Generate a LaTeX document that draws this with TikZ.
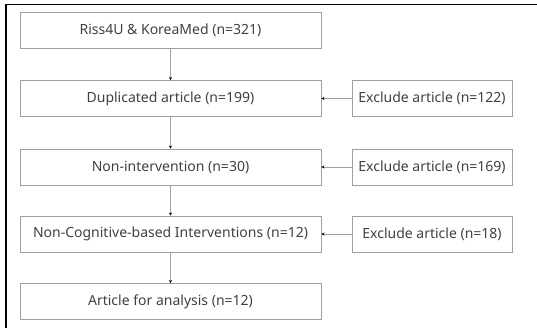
\documentclass[tikz,border=0pt]{standalone}
\usepackage{fontspec}
\setmainfont{Noto Sans}
\usetikzlibrary{arrows.meta}
\definecolor{boxgray}{HTML}{A0A0A0}
\definecolor{txt}{HTML}{404040}
\begin{document}
\begin{tikzpicture}[x=1pt,y=-1pt,
  box/.style={draw=boxgray,line width=0.9pt,rectangle,minimum height=36pt,inner sep=0pt,text=txt,font=\fontsize{14}{16}\selectfont},
  mainbox/.style={box,minimum width=301pt},
  exbox/.style={box,minimum width=160pt},
  conn/.style={draw=boxgray,line width=0.8pt,-{Stealth[length=3pt,width=3pt,black]}}]
\useasboundingbox (0,0) rectangle (537,328);
\draw[line width=1.5pt,black] (537,4.3) -- (6,4.3) -- (6,328);
\node[mainbox] (m1) at (170.5,30.5) {Riss4U \& KoreaMed (n=321)};
\node[mainbox] (m2) at (170.5,98.5) {Duplicated article (n=199)};
\node[mainbox] (m3) at (170.5,167) {Non-intervention (n=30)};
\node[mainbox] (m4) at (170.5,234) {Non-Cognitive-based Interventions (n=12)};
\node[mainbox] (m5) at (170.5,301.5) {Article for analysis (n=12)};
\node[exbox] (e2) at (432,98.5) {Exclude article (n=122)};
\node[exbox] (e3) at (432,167) {Exclude article (n=169)};
\node[exbox] (e4) at (432,234) {Exclude article (n=18)};
\draw[conn] (m1) -- (m2);
\draw[conn] (m2) -- (m3);
\draw[conn] (m3) -- (m4);
\draw[conn] (m4) -- (m5);
\draw[conn] (e2) -- (m2);
\draw[conn] (e3) -- (m3);
\draw[conn] (e4) -- (m4);
\end{tikzpicture}
\end{document}
